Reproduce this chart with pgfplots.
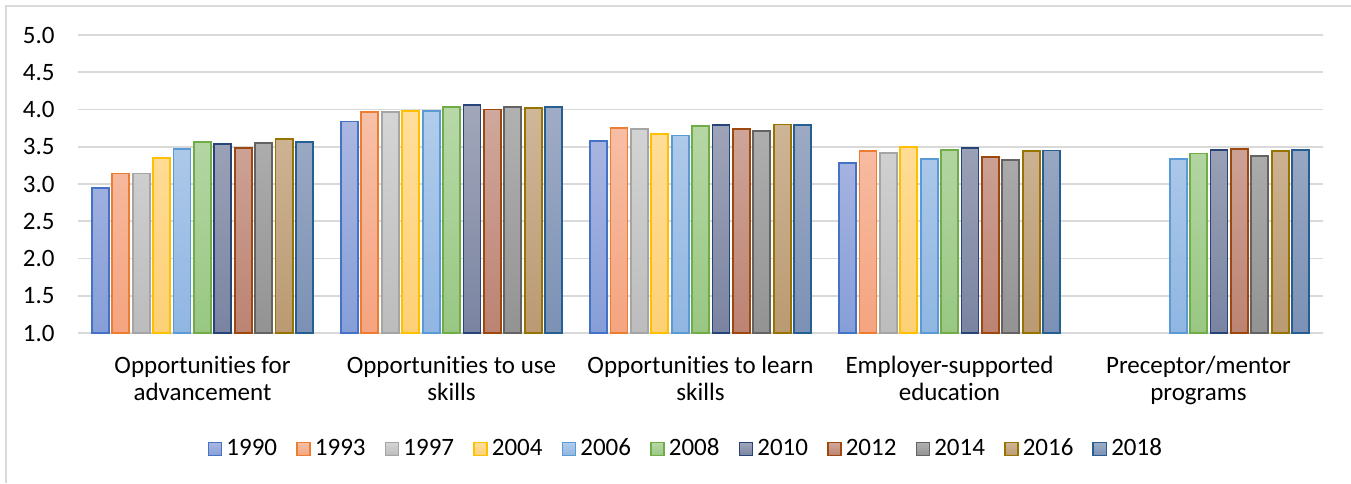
\documentclass[border=0pt]{standalone}
\usepackage{pgfplots}
\usepackage{pgfplotstable}
\pgfplotsset{compat=1.18}
\usepackage{fontspec}
\setmainfont{Carlito}[Ligatures=NoCommon]

% border / top / bottom colours of each survey year
\definecolor{b1}{HTML}{4472C4}\definecolor{t1}{HTML}{ABB7E1}\definecolor{f1}{HTML}{869ED8}
\definecolor{b2}{HTML}{ED7D31}\definecolor{t2}{HTML}{F7C0A8}\definecolor{f2}{HTML}{F5A480}
\definecolor{b3}{HTML}{A5A5A5}\definecolor{t3}{HTML}{D5D5D5}\definecolor{f3}{HTML}{BCBCBC}
\definecolor{b4}{HTML}{FFC000}\definecolor{t4}{HTML}{FFDE9C}\definecolor{f4}{HTML}{FDD076}
\definecolor{b5}{HTML}{5B9BD5}\definecolor{t5}{HTML}{B2CCEB}\definecolor{f5}{HTML}{90B6E2}
\definecolor{b6}{HTML}{70AD47}\definecolor{t6}{HTML}{B8D8A8}\definecolor{f6}{HTML}{99C783}
\definecolor{b7}{HTML}{264478}\definecolor{t7}{HTML}{A2A7BA}\definecolor{f7}{HTML}{7A84A1}
\definecolor{b8}{HTML}{9E480E}\definecolor{t8}{HTML}{D0A89D}\definecolor{f8}{HTML}{BC8372}
\definecolor{b9}{HTML}{636363}\definecolor{t9}{HTML}{B1B1B1}\definecolor{f9}{HTML}{939393}
\definecolor{b10}{HTML}{997300}\definecolor{t10}{HTML}{CFB799}\definecolor{f10}{HTML}{BA9A72}
\definecolor{b11}{HTML}{255E91}\definecolor{t11}{HTML}{9FACC5}\definecolor{f11}{HTML}{7B91B5}
\definecolor{gridgray}{HTML}{D9D9D9}

\pgfplotstableread{
x y1990 y1993 y1997 y2004 y2006 y2008 y2010 y2012 y2014 y2016 y2018
0 2.95 3.14 3.14 3.35 3.47 3.56 3.54 3.48 3.55 3.60 3.56
1 3.84 3.97 3.97 3.98 3.98 4.03 4.06 4.00 4.03 4.02 4.03
2 3.58 3.75 3.74 3.67 3.65 3.78 3.79 3.74 3.71 3.80 3.79
3 3.28 3.44 3.42 3.50 3.34 3.46 3.48 3.36 3.32 3.44 3.45
4 nan  nan  nan  nan  3.34 3.41 3.46 3.47 3.38 3.44 3.46
}\ratings

\newcommand\lblfont{\fontsize{12.5}{13.5}\selectfont}

\begin{document}
\begin{tikzpicture}
\lblfont
\begin{axis}[
  at={(0,0)}, anchor=south west,
  width=622.5pt, height=149pt, scale only axis,
  ybar=1.7pt, bar width=8.5pt,
  xmin=-0.5, xmax=4.5, ymin=1, ymax=5,
  ytick={1,1.5,2,2.5,3,3.5,4,4.5,5},
  xtick={0,1,2,3,4},
  xticklabels={{Opportunities for\\advancement},{Opportunities to use\\skills},
    {Opportunities to learn\\skills},{Employer-supported\\education},{Preceptor/mentor\\programs}},
  axis line style={draw=none}, tick style={draw=none},
  ymajorgrids, grid style={draw=gridgray, line width=0.9pt},
  /pgf/number format/assume math mode=true,
  yticklabel style={/pgf/number format/fixed, /pgf/number format/fixed zerofill,
    /pgf/number format/precision=1,
    inner sep=0pt, xshift=-11.5pt, font=\lblfont},
  xticklabel style={align=center, inner sep=0pt, yshift=-7pt, font=\lblfont},
  every axis plot/.append style={line width=0.9pt,
    legend image code/.code={\draw[##1, line width=0.8pt] (0pt,-3.3pt) rectangle (6.6pt,3.3pt);}},
  legend columns=11,
  legend style={draw=none, at={(0.489,0)}, anchor=center, yshift=-58pt,
    font=\lblfont,
    /tikz/every even column/.append style={column sep=7.5pt}},
]
\addplot[draw=b1, top color=t1, bottom color=f1] table[x=x, y=y1990] {\ratings};
\addplot[draw=b2, top color=t2, bottom color=f2] table[x=x, y=y1993] {\ratings};
\addplot[draw=b3, top color=t3, bottom color=f3] table[x=x, y=y1997] {\ratings};
\addplot[draw=b4, top color=t4, bottom color=f4] table[x=x, y=y2004] {\ratings};
\addplot[draw=b5, top color=t5, bottom color=f5] table[x=x, y=y2006] {\ratings};
\addplot[draw=b6, top color=t6, bottom color=f6] table[x=x, y=y2008] {\ratings};
\addplot[draw=b7, top color=t7, bottom color=f7] table[x=x, y=y2010] {\ratings};
\addplot[draw=b8, top color=t8, bottom color=f8] table[x=x, y=y2012] {\ratings};
\addplot[draw=b9, top color=t9, bottom color=f9] table[x=x, y=y2014] {\ratings};
\addplot[draw=b10, top color=t10, bottom color=f10] table[x=x, y=y2016] {\ratings};
\addplot[draw=b11, top color=t11, bottom color=f11] table[x=x, y=y2018] {\ratings};
\legend{1990,1993,1997,2004,2006,2008,2010,2012,2014,2016,2018}
\end{axis}
% chart area border (left and top edges only are inside the crop)
\draw[gridgray, line width=0.75pt] (-36pt,-75pt) -- (-36pt,163.5pt) -- (636.5pt,163.5pt);
\pgfresetboundingbox
\path[use as bounding box] (-39pt,-75pt) rectangle (636.5pt,166.5pt);
\end{tikzpicture}
\end{document}
